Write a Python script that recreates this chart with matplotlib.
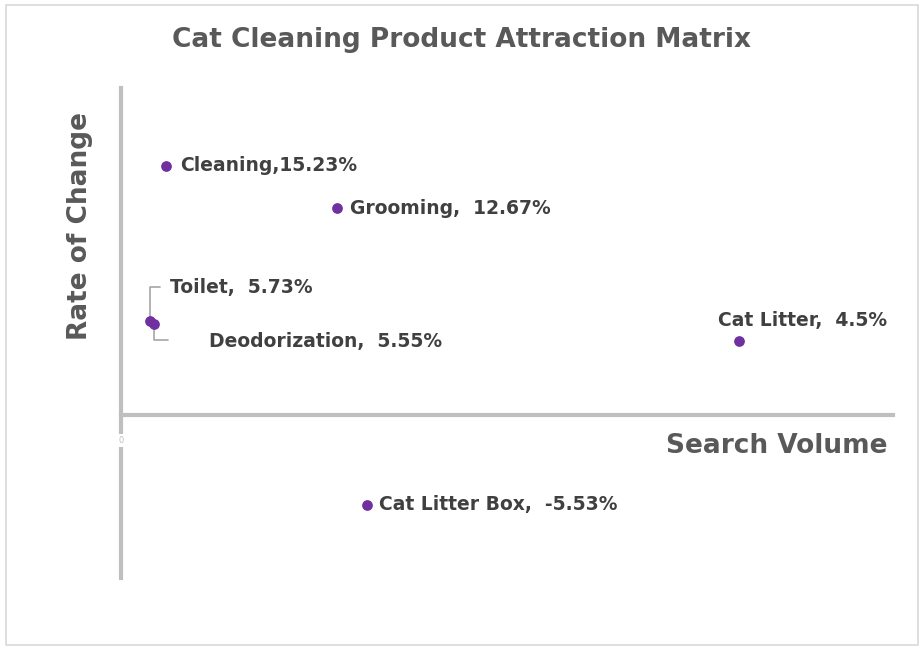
import matplotlib
matplotlib.use("Agg")
import matplotlib.pyplot as plt
from matplotlib.patches import Rectangle

# data
products = ["Cleaning", "Grooming", "Toilet", "Deodorization", "Cat Litter", "Cat Litter Box"]
search_volume = [5800, 28000, 3760, 4270, 80000, 31900]
rate_of_change = [15.23, 12.67, 5.73, 5.55, 4.5, -5.53]
labels = ["Cleaning,15.23%", "Grooming,  12.67%", "Toilet,  5.73%",
          "Deodorization,  5.55%", "Cat Litter,  4.5%", "Cat Litter Box,  -5.53%"]
# label offsets in pixels (dx, dy), alignment and leader end (pixels from point)
offsets = [(14, 0), (13, -1), (20, 34), (55, -17), (148, 21), (12, 0)]
aligns = ["left", "left", "left", "left", "right", "left"]
leaders = [None, None, (10, 34), (14, -16), None, None]

AXIS_GRAY = "#bfbfbf"
TITLE_GRAY = "#595959"
LABEL_DARK = "#404040"
PURPLE = "#7030a0"

plt.rcParams['font.family'] = ['DejaVu Sans']

fig = plt.figure(figsize=(9.24, 6.5), dpi=100)
fig.patches.append(Rectangle((0.006, 0.008), 0.988, 0.984, transform=fig.transFigure,
                             fill=False, edgecolor="#d9d9d9", linewidth=1.2))

ax = fig.add_axes([0.131, 0.1108, 0.8355, 0.7538])
ax.set_xlim(0, 100000)
ax.set_ylim(-10, 20)

for s in ["top", "right"]:
    ax.spines[s].set_visible(False)
ax.spines["bottom"].set_position(("data", 0))
ax.spines["left"].set_position(("data", 0))
for s in ["bottom", "left"]:
    ax.spines[s].set_color(AXIS_GRAY)
    ax.spines[s].set_linewidth(3)
ax.set_xticks([])
ax.set_yticks([])

# little "0" tick label breaking the vertical axis
ax.text(0, -1.6, "0", ha="center", va="center", fontsize=6, color="#bfbfbf",
        bbox=dict(boxstyle="square,pad=0.25", facecolor="white", edgecolor="none"),
        zorder=5)

ax.scatter(search_volume, rate_of_change, s=45, color=PURPLE, zorder=6)

for x, y, lab, (dx, dy), ha, lead in zip(search_volume, rate_of_change, labels,
                                         offsets, aligns, leaders):
    ax.annotate(lab, (x, y), xytext=(dx, dy), textcoords="offset pixels",
                ha=ha, va="center", fontsize=13.5, fontweight="bold", color=LABEL_DARK)
    if lead is not None:
        ax.annotate("", (x, y), xytext=lead, textcoords="offset pixels",
                    arrowprops=dict(arrowstyle="-", color="#a6a6a6", lw=1.2,
                                    connectionstyle="angle,angleA=0,angleB=90,rad=0",
                                    shrinkA=0, shrinkB=2))

fig.text(0.5, 0.938, "Cat Cleaning Product Attraction Matrix", ha="center", va="center",
         fontsize=19, fontweight="bold", color=TITLE_GRAY)
fig.text(0.961, 0.314, "Search Volume", ha="right", va="center",
         fontsize=19, fontweight="bold", color=TITLE_GRAY)
fig.text(0.087, 0.653, "Rate of Change", ha="center", va="center", rotation=90,
         fontsize=19, fontweight="bold", color=TITLE_GRAY)

fig.savefig("out.png", dpi=100)
